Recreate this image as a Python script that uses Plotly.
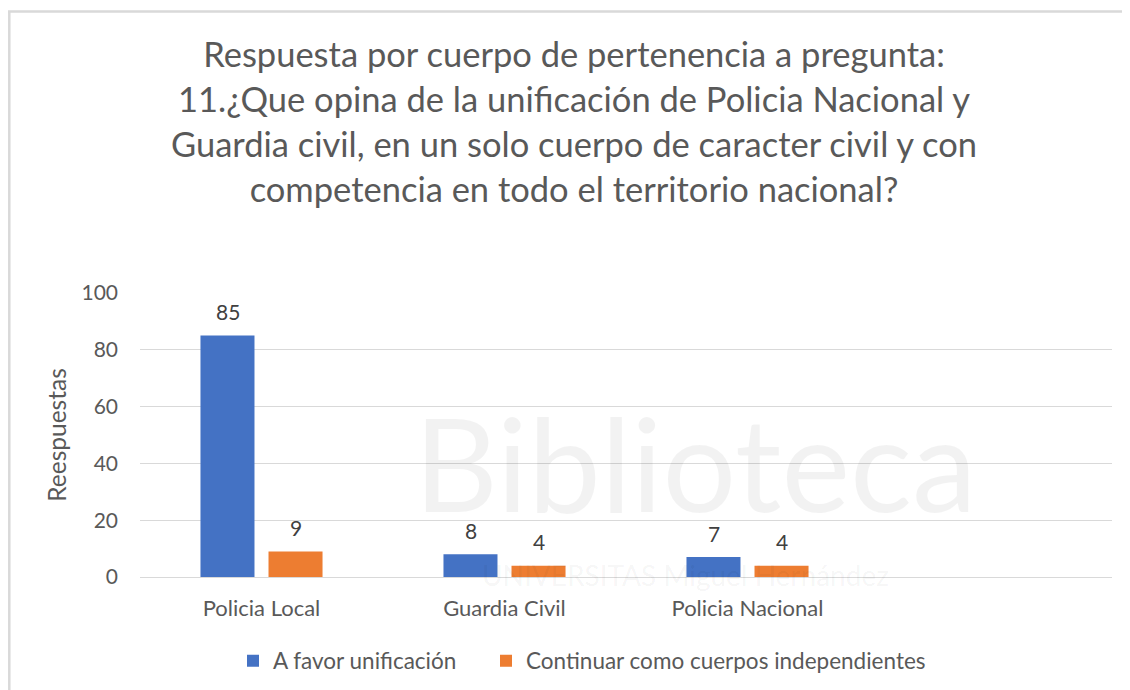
import plotly.graph_objects as go

categories = ["Policia Local", "Guardia Civil", "Policia Nacional"]
series_names = ["A favor unificación", "Continuar como cuerpos independientes"]
favor_values = [85, 8, 7]
continuar_values = [9, 4, 4]
y_ticks = [0, 20, 40, 60, 80, 100]

title_text = ("Respuesta por cuerpo de pertenencia a pregunta:<br>"
              "11.¿Que opina de la unificación de Policia Nacional y<br>"
              "Guardia civil, en un solo cuerpo de caracter civil y con<br>"
              "competencia en todo el territorio nacional?")

OFF = 8  # page body margin
W, H = 1130 - OFF, 690 - OFF
L, R, T, B = 140 - OFF, 1130 - 1112, 293 - OFF, 690 - 577
pw, ph = W - L - R, H - T - B

def px(x):  # page pixel -> paper x
    return (x - OFF - L) / pw

def py(y):  # page pixel -> paper y
    return (H - B - (y - OFF)) / ph

FONT = "Lato"
GREY = "#595959"

fig = go.Figure()
fig.add_trace(go.Bar(name=series_names[0], x=categories, y=favor_values,
                     legend="legend",
                     marker=dict(color="#4472C4", line=dict(width=0))))
fig.add_trace(go.Bar(name=series_names[1], x=categories, y=continuar_values,
                     legend="legend2",
                     marker=dict(color="#ED7D31", line=dict(width=0))))

annotations = []
for vals, shift in ((favor_values, -34), (continuar_values, 34)):
    for c, v in zip(categories, vals):
        annotations.append(dict(x=c, y=v, xref="x", yref="y", text=str(v),
                                showarrow=False, xshift=shift, yshift=24,
                                yanchor="middle",
                                font=dict(family=FONT, size=21, color="#404040")))

# faint watermark
annotations.append(dict(xref="paper", yref="paper", x=px(695), y=py(462),
                        xanchor="center", yanchor="middle",
                        text="Biblioteca", showarrow=False,
                        font=dict(family=FONT, size=130, color="rgba(0,0,0,0.05)")))
annotations.append(dict(xref="paper", yref="paper", x=px(685), y=py(575),
                        xanchor="center", yanchor="middle",
                        text="UNIVERSITAS Miguel Hernández", showarrow=False,
                        font=dict(family=FONT, size=28, color="rgba(0,0,0,0.05)")))

shapes = [
    dict(type="line", xref="paper", yref="paper", x0=px(8), x1=px(1140),
         y0=py(11.5), y1=py(11.5), line=dict(color="#D9D9D9", width=2.5)),
    dict(type="line", xref="paper", yref="paper", x0=px(9.3), x1=px(9.3),
         y0=py(11.5), y1=py(700), line=dict(color="#D9D9D9", width=2.5)),
]

legend_style = dict(orientation="h", xanchor="left",
                    yref="container", y=1 - (661 - OFF) / H, yanchor="middle",
                    font=dict(family=FONT, size=22.5, color=GREY),
                    itemwidth=30, bgcolor="rgba(0,0,0,0)")

fig.update_layout(
    width=W, height=H,
    margin=dict(l=L, r=R, t=T, b=B, autoexpand=False),
    paper_bgcolor="white", plot_bgcolor="white",
    barmode="group", bargap=0.44, bargroupgap=0.206,
    title=dict(text=title_text, x=(574 - OFF) / W, xref="container", xanchor="center",
               y=1 - (67 - OFF) / H, yref="container", yanchor="top",
               font=dict(family=FONT, size=34.5, color=GREY)),
    xaxis=dict(type="category", categoryorder="array", categoryarray=categories,
               range=[-0.5, 3.5], showgrid=False, showline=False, ticks="",
               tickfont=dict(family=FONT, size=22, color=GREY), ticklabelstandoff=16),
    yaxis=dict(range=[0, 100], tickvals=y_ticks, showgrid=True,
               gridcolor="#D9D9D9", gridwidth=1.3, zeroline=True,
               zerolinecolor="#D9D9D9", zerolinewidth=1.3, showline=False,
               tickfont=dict(family=FONT, size=21, color=GREY), ticklabelstandoff=21,
               title=dict(text="Reespuestas", standoff=7,
                          font=dict(family=FONT, size=24.5, color=GREY))),
    legend=dict(x=px(247 - 14), **legend_style),
    legend2=dict(x=px(500 - 14), **legend_style),
    showlegend=True,
    annotations=annotations,
    shapes=shapes,
)

fig.write_html("out.html")
